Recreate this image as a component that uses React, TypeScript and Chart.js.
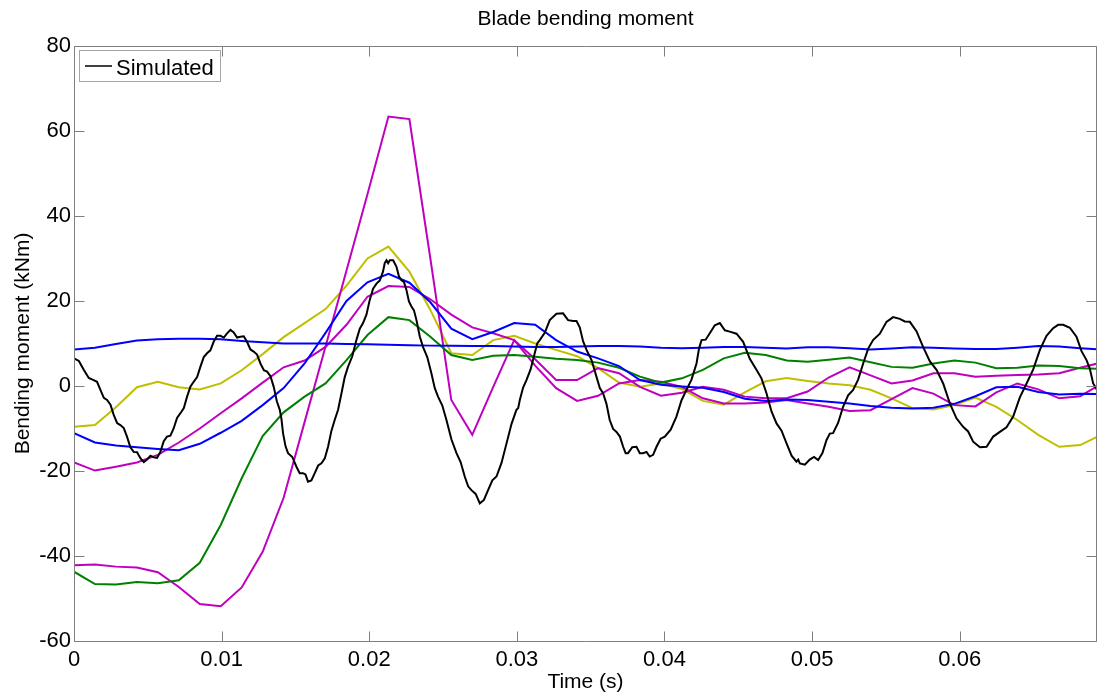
import React, { useEffect, useRef } from 'react';
import { Chart, registerables } from 'chart.js';

Chart.register(...registerables);

// ---------- text ----------
const TITLE = 'Blade bending moment';
const X_LABEL = 'Time (s)';
const Y_LABEL = 'Bending moment (kNm)';
const LEGEND_LABEL = 'Simulated';

// ---------- axes ----------
const X_MIN = 0;
const X_MAX = 0.0693;
const X_STEP = 0.01;
const Y_MIN = -60;
const Y_MAX = 80;
const Y_STEP = 20;

// ---------- simulated (black) ----------
const simTime = [
  0, 0.00033, 0.00066, 0.001, 0.00133, 0.00156, 0.00179, 0.00202, 0.00224, 0.00247,
  0.00269, 0.00292, 0.00314, 0.00337, 0.00359, 0.00382, 0.00404, 0.00427, 0.0045, 0.00473,
  0.00495, 0.00518, 0.0054, 0.00563, 0.00585, 0.00608, 0.0063, 0.00653, 0.00675, 0.00698,
  0.00721, 0.00744, 0.00766, 0.00789, 0.00811, 0.00834, 0.00856, 0.00879, 0.00901, 0.00924,
  0.00946, 0.00969, 0.00992, 0.01015, 0.01037, 0.0106, 0.01082, 0.01105, 0.01127, 0.0115,
  0.01172, 0.01195, 0.01217, 0.0124, 0.01263, 0.01286, 0.01308, 0.01331, 0.01353, 0.01374,
  0.01394, 0.01405, 0.01416, 0.01433, 0.0145, 0.01479, 0.01507, 0.01529, 0.01551, 0.01568,
  0.01585, 0.01608, 0.01631, 0.01654, 0.01676, 0.01699, 0.01721, 0.01744, 0.01766, 0.01789,
  0.01812, 0.01834, 0.01856, 0.01885, 0.01913, 0.01936, 0.01958, 0.01981, 0.02003, 0.02026,
  0.02049, 0.02071, 0.02093, 0.02105, 0.02117, 0.02128, 0.02139, 0.02162, 0.02184, 0.02201,
  0.02218, 0.02235, 0.02252, 0.02269, 0.02286, 0.02303, 0.0232, 0.02342, 0.02364, 0.02393,
  0.02421, 0.02444, 0.02466, 0.02495, 0.02523, 0.02557, 0.02591, 0.02619, 0.02647, 0.0267,
  0.02692, 0.02721, 0.02749, 0.02777, 0.02805, 0.02834, 0.02862, 0.02896, 0.0293, 0.02964,
  0.02997, 0.03009, 0.0302, 0.03043, 0.03065, 0.03093, 0.03121, 0.03138, 0.03155, 0.03189,
  0.03223, 0.03268, 0.03313, 0.03347, 0.03381, 0.03404, 0.03426, 0.03449, 0.03472, 0.03506,
  0.03539, 0.03562, 0.03584, 0.03607, 0.03629, 0.03652, 0.03675, 0.03698, 0.0372, 0.03737,
  0.03753, 0.03782, 0.0381, 0.03833, 0.03855, 0.03878, 0.039, 0.03923, 0.03946, 0.03974,
  0.04002, 0.04042, 0.04081, 0.04115, 0.04149, 0.04183, 0.04217, 0.04234, 0.04251, 0.04279,
  0.04307, 0.04341, 0.04375, 0.04409, 0.04442, 0.04488, 0.04533, 0.04578, 0.04623, 0.04657,
  0.04691, 0.04725, 0.04759, 0.04793, 0.04827, 0.04861, 0.04894, 0.04906, 0.04917, 0.04951,
  0.04984, 0.05013, 0.05041, 0.0507, 0.05098, 0.0512, 0.05142, 0.05176, 0.0521, 0.05244,
  0.05278, 0.05312, 0.05346, 0.0538, 0.05413, 0.05459, 0.05504, 0.05549, 0.05594, 0.05628,
  0.05662, 0.05707, 0.05752, 0.05798, 0.05843, 0.05888, 0.05933, 0.05978, 0.06023, 0.06057,
  0.06091, 0.06137, 0.06182, 0.06227, 0.06272, 0.06317, 0.06362, 0.06408, 0.06453, 0.06498,
  0.06543, 0.06588, 0.06633, 0.06667, 0.06701, 0.06746, 0.06791, 0.06825, 0.06859, 0.06882,
  0.06904, 0.06917, 0.06929,
];
const simValue = [
  6.5, 5.9, 3.8, 1.9, 1.4, 1.0, -0.9, -2.8, -3.3, -4.4,
  -6.8, -8.7, -9.2, -9.9, -11.9, -14.4, -15.5, -15.6, -17.0, -17.9,
  -17.3, -16.4, -16.8, -16.9, -15.5, -13.0, -11.9, -11.7, -10.0, -7.5,
  -6.4, -5.2, -2.5, -0.1, 1.0, 2.1, 4.5, 6.8, 7.7, 8.4,
  10.4, 11.8, 11.8, 11.4, 12.4, 13.2, 12.6, 11.4, 11.6, 11.7,
  10.4, 8.6, 8.1, 7.4, 5.3, 3.7, 3.4, 2.3, -0.2, -3.6,
  -5.6, -7.7, -11.1, -14.2, -15.8, -16.7, -19.0, -20.5, -20.5, -20.8,
  -22.5, -22.2, -20.5, -18.7, -18.2, -17.0, -14.3, -10.5, -8.0, -5.6,
  -1.7, 2.1, 4.5, 7.0, 10.8, 13.5, 14.8, 16.8, 20.2, 22.9,
  24.1, 24.8, 26.9, 28.9, 29.6, 28.9, 29.6, 29.6, 28.1, 25.8,
  24.9, 24.5, 22.6, 19.9, 18.7, 17.8, 15.5, 11.7, 9.2, 6.8,
  3.0, -0.5, -2.5, -4.6, -8.0, -12.6, -15.8, -17.9, -21.3, -23.6,
  -24.5, -25.4, -27.6, -26.8, -24.5, -22.2, -21.3, -18.1, -13.5, -8.9,
  -5.6, -5.2, -3.3, -0.3, 1.4, 3.9, 7.7, 10.0, 10.8, 12.5,
  15.5, 17.0, 17.1, 15.5, 15.3, 15.3, 13.8, 10.5, 8.5, 6.1,
  2.2, -0.5, -1.7, -4.2, -8.0, -10.1, -10.8, -11.9, -14.3, -15.8,
  -15.8, -14.4, -14.3, -15.8, -15.8, -15.5, -16.6, -16.2, -14.3, -12.4,
  -11.9, -10.3, -7.2, -3.4, -0.9, 1.5, 5.3, 8.8, 10.8, 10.9,
  12.4, 14.3, 14.8, 13.1, 12.8, 12.3, 10.4, 6.4, 3.8, 1.8,
  -1.7, -6.0, -8.8, -10.5, -13.5, -16.4, -17.8, -17.3, -18.2, -18.5,
  -17.3, -16.7, -17.4, -15.8, -12.7, -11.2, -11.1, -8.7, -4.9, -2.2,
  -0.9, 1.5, 5.3, 8.8, 10.8, 12.3, 15.1, 16.2, 15.8, 15.2,
  15.1, 12.9, 9.2, 5.8, 3.8, 0.6, -4.1, -7.6, -9.6, -10.7,
  -13.1, -14.4, -14.3, -11.9, -10.8, -9.7, -7.2, -2.6, 0.6, 3.9,
  8.5, 11.8, 13.6, 14.4, 14.4, 13.7, 11.6, 8.2, 6.1, 4.0,
  0.6, -0.1, -0.9,
];

// ---------- measured gauges (coloured) ----------
const gaugeTime = [
  0, 0.00142, 0.00284, 0.00426, 0.00568, 0.0071, 0.00852, 0.00994, 0.01136, 0.01278,
  0.0142, 0.01562, 0.01704, 0.01846, 0.01988, 0.0213, 0.02272, 0.02414, 0.02556, 0.02698,
  0.0284, 0.02982, 0.03124, 0.03266, 0.03408, 0.0355, 0.03692, 0.03834, 0.03976, 0.04118,
  0.0426, 0.04402, 0.04544, 0.04686, 0.04828, 0.0497, 0.05112, 0.05254, 0.05396, 0.05538,
  0.0568, 0.05822, 0.05964, 0.06106, 0.06248, 0.0639, 0.06532, 0.06674, 0.06816, 0.06958,
];
const blueFlat = [
  8.6, 9.0, 9.9, 10.7, 11.0, 11.1, 11.1, 11.0, 10.6, 10.3,
  10.0, 10.0, 10.0, 9.9, 9.8, 9.7, 9.6, 9.5, 9.5, 9.4,
  9.4, 9.3, 9.2, 9.2, 9.3, 9.4, 9.4, 9.3, 9.0, 8.9,
  9.0, 9.2, 9.2, 9.0, 8.8, 9.1, 9.1, 8.9, 8.6, 8.8,
  9.1, 9.0, 8.8, 8.7, 8.7, 9.0, 9.4, 9.3, 8.9, 8.6,
];
const blueWave = [
  -11.1, -13.3, -14.0, -14.4, -14.8, -15.1, -13.6, -11.0, -8.2, -4.5,
  -0.5, 5.3, 12.5, 20.0, 24.4, 26.4, 24.3, 19.7, 13.5, 11.0,
  12.7, 14.8, 14.4, 10.8, 8.1, 6.5, 4.7, 1.4, 0.3, -0.1,
  -0.4, -1.4, -3.0, -3.5, -3.2, -3.3, -3.7, -4.1, -4.7, -5.1,
  -5.3, -5.1, -4.2, -2.4, -0.3, -0.2, -1.4, -2.0, -1.8, -1.9,
];
const green = [
  -43.7, -46.6, -46.7, -46.1, -46.4, -45.7, -41.6, -32.7, -21.7, -11.8,
  -6.2, -2.5, 0.6, 6.1, 12.0, 16.2, 15.5, 11.6, 7.3, 6.1,
  7.1, 7.3, 6.9, 6.4, 6.1, 5.5, 4.3, 2.2, 0.8, 1.8,
  3.8, 6.5, 7.8, 7.3, 6.0, 5.7, 6.2, 6.7, 5.6, 4.5,
  4.3, 5.3, 6.0, 5.5, 4.2, 4.3, 4.8, 4.7, 4.2, 4.0,
];
const magentaPeak = [
  -42.2, -42.0, -42.5, -42.7, -43.8, -47.3, -51.3, -51.8, -47.4, -39.0,
  -26.3, -8.5, 9.3, 27.2, 45.1, 63.4, 62.8, 30.0, -3.3, -11.5,
  -0.2, 10.8, 4.8, -0.5, -3.5, -2.3, 0.6, 1.4, 1.0, -0.2,
  -2.9, -4.1, -4.1, -3.9, -3.3, -4.1, -4.9, -5.9, -5.7, -3.1,
  -0.5, -1.8, -4.5, -4.8, -1.5, 0.6, -0.8, -2.9, -2.4, 0.5,
];
const magentaSecond = [
  -18.0, -19.9, -19.0, -18.0, -16.2, -13.3, -10.0, -6.4, -2.9, 0.8,
  4.4, 6.0, 9.2, 14.4, 21.0, 23.5, 23.3, 20.4, 16.8, 13.8,
  12.4, 10.8, 6.3, 1.4, 1.4, 4.2, 3.0, -0.2, -2.3, -1.6,
  -0.2, -0.9, -2.5, -2.9, -2.9, -1.3, 2.0, 4.4, 2.5, 0.6,
  1.3, 3.0, 3.0, 2.2, 2.4, 2.6, 2.7, 3.0, 4.3, 5.5,
];
const yellow = [
  -9.6, -9.2, -5.0, -0.3, 1.0, -0.3, -0.8, 0.6, 3.7, 7.5,
  11.5, 14.8, 18.1, 23.6, 30.0, 32.8, 26.9, 17.9, 7.7, 7.3,
  10.8, 11.8, 10.0, 8.5, 7.0, 4.2, 0.8, -0.2, 0.6, -0.7,
  -3.5, -4.4, -1.5, 1.1, 1.9, 1.2, 0.6, 0.2, -0.9, -2.9,
  -5.2, -5.5, -4.5, -2.7, -4.9, -8.0, -11.5, -14.3, -13.9, -11.5,
];

const FONT = "'Liberation Sans', Arial, Helvetica, sans-serif";
const AXIS_COLOR = '#7f7f7f';

function pairs(xs: number[], ys: number[]) {
  const n = Math.min(xs.length, ys.length);
  const out: { x: number; y: number }[] = [];
  for (let i = 0; i < n; i++) out.push({ x: xs[i], y: ys[i] });
  return out;
}

const decorPlugin = {
  id: 'decor',
  afterDatasetsDraw(chart: any) {
    const { ctx, chartArea: a, scales } = chart;
    const xs = scales.x;
    const ys = scales.y;
    ctx.save();
    // box
    ctx.strokeStyle = AXIS_COLOR;
    ctx.lineWidth = 1;
    const L = Math.round(a.left) + 0.5;
    const R = Math.round(a.right) - 0.5;
    const T = Math.round(a.top) + 0.5;
    const B = Math.round(a.bottom) + 0.5;
    ctx.beginPath();
    ctx.rect(L, T, R - L, B - T);
    ctx.stroke();
    // inward ticks
    const TL = 10;
    ctx.beginPath();
    xs.ticks.forEach((t: any) => {
      const p = Math.round(xs.getPixelForValue(t.value)) + 0.5;
      ctx.moveTo(p, B);
      ctx.lineTo(p, B - TL);
      ctx.moveTo(p, T);
      ctx.lineTo(p, T + TL);
    });
    ys.ticks.forEach((t: any) => {
      const p = Math.round(ys.getPixelForValue(t.value)) + 0.5;
      ctx.moveTo(L, p);
      ctx.lineTo(L + TL, p);
      ctx.moveTo(R, p);
      ctx.lineTo(R - TL, p);
    });
    ctx.stroke();

    // title and axis titles
    ctx.fillStyle = '#000';
    ctx.font = `21px ${FONT}`;
    ctx.textAlign = 'center';
    ctx.textBaseline = 'alphabetic';
    const cx = (a.left + a.right) / 2;
    ctx.fillText(TITLE, cx, 25);
    ctx.fillText(X_LABEL, cx, 688);
    ctx.save();
    ctx.translate(29, (a.top + a.bottom) / 2);
    ctx.rotate(-Math.PI / 2);
    ctx.fillText(Y_LABEL, 0, 0);
    ctx.restore();

    // legend
    const lx = 79.5, ly = 50.5, lw = 141, lh = 31;
    ctx.fillStyle = '#fff';
    ctx.fillRect(lx, ly, lw, lh);
    ctx.strokeStyle = '#a6a6a6';
    ctx.lineWidth = 1;
    ctx.strokeRect(lx, ly, lw, lh);
    ctx.strokeStyle = '#000';
    ctx.lineWidth = 1.5;
    ctx.beginPath();
    ctx.moveTo(85, 66);
    ctx.lineTo(112, 66);
    ctx.stroke();
    ctx.fillStyle = '#000';
    ctx.font = `22px ${FONT}`;
    ctx.textAlign = 'left';
    ctx.fillText(LEGEND_LABEL, 116, 75);
    ctx.restore();
  },
};

function fmtX(v: number) {
  if (Math.abs(v) < 1e-9) return '0';
  return String(Number(v.toFixed(4)));
}

export default function App() {
  const ref = useRef<HTMLCanvasElement>(null);
  useEffect(() => {
    document.body.style.margin = '0';
    const line = (label: string, ys: number[], color: string, width: number, xs = gaugeTime) => ({
      label,
      data: pairs(xs, ys),
      borderColor: color,
      backgroundColor: color,
      borderWidth: width,
      pointRadius: 0,
      fill: false,
      tension: 0,
    });
    const chart = new Chart(ref.current as HTMLCanvasElement, {
      type: 'line',
      data: {
        datasets: [
          line(LEGEND_LABEL, simValue, '#000000', 2, simTime),
          line('Gauge 1', blueFlat, '#0000ff', 2),
          line('Gauge 2', blueWave, '#0000ff', 2),
          line('Gauge 3', green, '#008000', 2),
          line('Gauge 4', magentaPeak, '#bf00bf', 2),
          line('Gauge 5', magentaSecond, '#bf00bf', 2),
          line('Gauge 6', yellow, '#bfbf00', 2),
        ],
      },
      options: {
        responsive: false,
        animation: false,
        parsing: true,
        layout: { padding: { top: 46, right: 0, bottom: 0, left: 0 } },
        plugins: {
          legend: { display: false },
          title: { display: false },
          tooltip: { enabled: false },
        },
        scales: {
          x: {
            type: 'linear',
            min: X_MIN,
            max: X_MAX,
            afterFit: (s: any) => { s.height = 54; },
            grid: { display: false, drawTicks: false },
            border: { display: false },
            ticks: {
              stepSize: X_STEP,
              includeBounds: false,
              autoSkip: false,
              maxRotation: 0,
              padding: 6,
              color: '#000',
              font: { family: FONT, size: 22 },
              callback: (v: any) => fmtX(Number(v)),
            },
          },
          y: {
            type: 'linear',
            min: Y_MIN,
            max: Y_MAX,
            afterFit: (s: any) => { s.width = 74; },
            grid: { display: false, drawTicks: false },
            border: { display: false },
            ticks: {
              stepSize: Y_STEP,
              includeBounds: false,
              autoSkip: false,
              padding: 3,
              color: '#000',
              font: { family: FONT, size: 22 },
              callback: (v: any) => String(Number(v)),
            },
          },
        },
      } as any,
      plugins: [decorPlugin],
    });
    return () => chart.destroy();
  }, []);
  return (
    <div style={{ position: 'fixed', left: 0, top: 0, width: 1097, height: 695, background: '#fff' }}>
      <canvas ref={ref} width={1097} height={695} style={{ display: 'block', width: 1097, height: 695 }} />
    </div>
  );
}
